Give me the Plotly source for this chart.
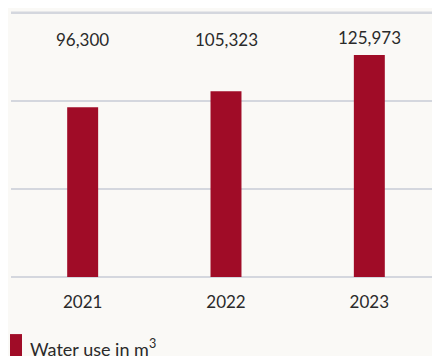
import plotly.graph_objects as go

years = ["2021", "2022", "2023"]
water_use = [96300, 105323, 125973]
value_labels = ["96,300", "105,323", "125,973"]
grid_values = [0, 50000, 100000, 150000]
series_name = "Water use in m<sup>3</sup>"

BAR_COLOR = "#a00c27"
GRID_COLOR = "#d4d7de"
TEXT_COLOR = "#2a2a2a"
FONT = "Lato, Open Sans, sans-serif"

# the page body adds an 8px offset; margins below compensate for it
fig = go.Figure()
fig.add_trace(go.Bar(
    x=years, y=water_use, name=series_name,
    marker=dict(color=BAR_COLOR, line=dict(width=0)),
    showlegend=False,
))

fig.update_xaxes(type="category", categoryorder="array", categoryarray=years)

# make sure the top grid line is drawn even near the plot edge
fig.add_shape(type="line", xref="paper", yref="y", x0=0, x1=1,
              y0=grid_values[-1], y1=grid_values[-1], layer="below",
              line=dict(color=GRID_COLOR, width=2))

for i, (yr, lab) in enumerate(zip(years, value_labels)):
    fig.add_annotation(
        x=i, y=134500, xref="x", yref="y", text=lab, showarrow=False,
        yshift=2 if i == 2 else 0,
        font=dict(family=FONT, size=17, color=TEXT_COLOR),
    )

# legend key (drawn manually to match the reference's tight spacing)
fig.add_shape(type="rect", xref="paper", yref="paper",
              x0=-0.0023, x1=0.0256, y0=-0.213, y1=-0.32,
              fillcolor=BAR_COLOR, line=dict(width=0))
fig.add_annotation(xref="paper", yref="paper", x=0.0395, y=-0.265,
                   xanchor="left", yanchor="middle", showarrow=False,
                   text=series_name,
                   font=dict(family=FONT, size=18, color=TEXT_COLOR))

fig.update_layout(
    width=440, height=356,
    autosize=False,
    margin=dict(l=3, r=7, t=1, b=87, autoexpand=False),
    paper_bgcolor="#faf9f6",
    plot_bgcolor="rgba(0,0,0,0)",
    bargap=0.784,
    font=dict(family=FONT, size=17, color=TEXT_COLOR),
    showlegend=False,
    xaxis=dict(
        showgrid=False, showline=False, zeroline=False,
        ticks="outside", ticklen=10, tickcolor="rgba(0,0,0,0)",
        tickfont=dict(family=FONT, size=17, color=TEXT_COLOR),
    ),
    yaxis=dict(
        range=[0, 152000], tickvals=grid_values,
        showticklabels=False,
        showgrid=True, gridcolor=GRID_COLOR, gridwidth=2,
        zeroline=True, zerolinecolor=GRID_COLOR, zerolinewidth=2,
        showline=False, ticks="",
    ),
)

fig.write_html("out.html")
